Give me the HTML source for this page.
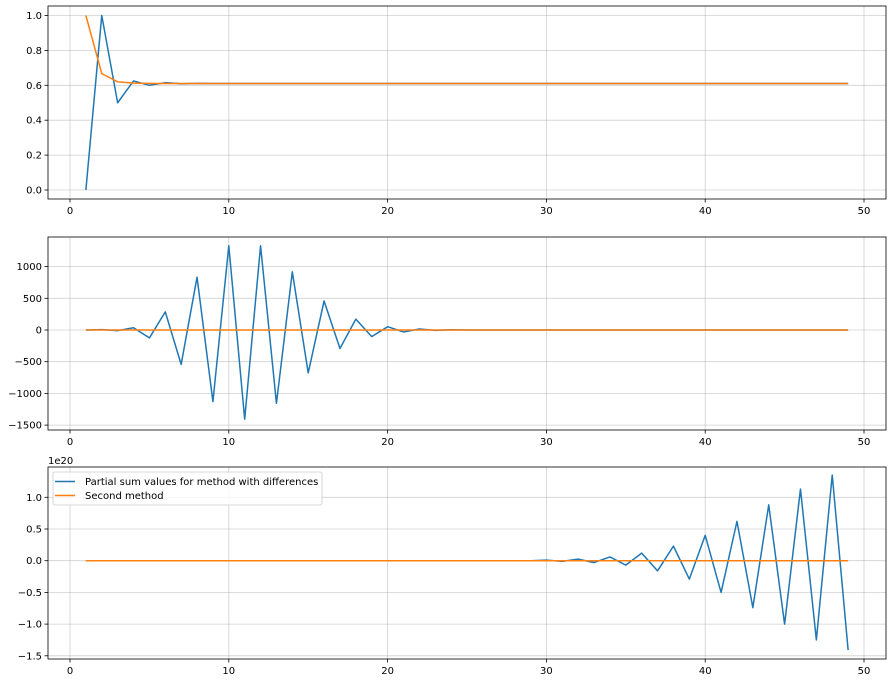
<!DOCTYPE html>
<html><head><meta charset="utf-8"><style>
html,body{margin:0;padding:0;background:#fff;}
svg{display:block;font-family:"DejaVu Sans","Liberation Sans",sans-serif;}
</style></head><body>
<svg id="fig" width="892" height="683" viewBox="0 0 892 683" xmlns="http://www.w3.org/2000/svg"></svg>
<script>
const xs = Array.from({length:49},(_,i)=>i+1);
const xTicks = [0,10,20,30,40,50];
const p1Blue = [0,1,0.5,0.625,0.6,0.615,0.609,0.611,0.61,0.61];
const p1Orange = [1,0.667,0.62,0.6125,0.611,0.61,0.61,0.61,0.61,0.61];
const p1Ticks = [0,0.2,0.4,0.6,0.8,1.0];
const p1TickLabels = ["0.0","0.2","0.4","0.6","0.8","1.0"];
const p2Blue = [0,5,-10,36,-125,286,-542,833,-1130,1328,-1406,1328,-1156,917,-677,458,-292,172,-104,52,-31,16,-5,3,0];
const p2Orange = [0,0,0,0,0,0,0,0,0,0];
const p2Ticks = [-1500,-1000,-500,0,500,1000];
const p2TickLabels = ["\u22121500","\u22121000","\u2212500","0","500","1000"];
const p3Blue = [0,0,0,0,0,0,0,0,0,0,0,0,0,0,0,0,0,0,0,0,0,0,0,0,0,0,0,0,0,0.01,-0.01,0.025,-0.03,0.06,-0.07,0.12,-0.16,0.23,-0.29,0.40,-0.50,0.62,-0.74,0.88,-1.0,1.13,-1.25,1.35,-1.41];
const p3Orange = [0,0,0,0,0,0,0,0,0,0];
const p3Ticks = [-1.5,-1.0,-0.5,0,0.5,1.0];
const p3TickLabels = ["\u22121.5","\u22121.0","\u22120.5","0.0","0.5","1.0"];

const svg = document.getElementById('fig');
const NS = 'http://www.w3.org/2000/svg';
function mk(tag, attrs){const e=document.createElementNS(NS,tag);for(const k in attrs)e.setAttribute(k,attrs[k]);return e;}
const L=48, R=886;
function xScale(v){return 70 + v*(864-70)/50;}
function pad(arr){return xs.map((x,i)=> i<arr.length?arr[i]:arr[arr.length-1]);}

function panel(name, top, bottom, y0px, yv0, y1px, yv1, ticks, labels, blue, orange){
  const g = mk('g',{});
  
  
  svg.appendChild(g);
  const ys = v => y0px + (v-yv0)*(y1px-y0px)/(yv1-yv0);
  xTicks.forEach(t=>{
    const x=xScale(t);
    const gl=mk('line',{x1:x,x2:x,y1:top,y2:bottom,stroke:'#b0b0b0','stroke-width':0.8,'stroke-opacity':0.6});
    
    
    g.appendChild(gl);
    g.appendChild(mk('line',{x1:x,x2:x,y1:bottom,y2:bottom+3.5,stroke:'#000','stroke-width':0.8}));
    const tx=mk('text',{x:x,y:bottom+15,'font-size':10,'text-anchor':'middle',fill:'#000'});
    tx.textContent=t;
    
    
    g.appendChild(tx);
  });
  ticks.forEach((t,i)=>{
    const y=ys(t);
    const gl=mk('line',{x1:L,x2:R,y1:y,y2:y,stroke:'#b0b0b0','stroke-width':0.8,'stroke-opacity':0.6});
    
    
    g.appendChild(gl);
    g.appendChild(mk('line',{x1:L-3.5,x2:L,y1:y,y2:y,stroke:'#000','stroke-width':0.8}));
    const tx=mk('text',{x:L-6,y:y+3.5,'font-size':10,'text-anchor':'end',fill:'#000'});
    tx.textContent=labels[i];
    
    
    g.appendChild(tx);
  });
  [[blue,'#1f77b4','series-blue'],[orange,'#ff7f0e','series-orange']].forEach(([arr,col,nm])=>{
    const vals=pad(arr);
    const pts=xs.map((x,i)=>xScale(x).toFixed(2)+','+ys(vals[i]).toFixed(2)).join(' ');
    const pl=mk('polyline',{points:pts,fill:'none',stroke:col,'stroke-width':1.5,'stroke-linejoin':'round'});
    
    
    g.appendChild(pl);
  });
  const fr=mk('rect',{x:L,y:top,width:R-L,height:bottom-top,fill:'none',stroke:'#000','stroke-width':0.8});
  
  
  g.appendChild(fr);
  return g;
}
panel('panel-1',6,199,190,0,15.5,1.0,p1Ticks,p1TickLabels,p1Blue,p1Orange);
panel('panel-2',237,430,330,0,298.3,500,p2Ticks,p2TickLabels,p2Blue,p2Orange);
const g3=panel('panel-3',467,659,560.7,0,529,0.5,p3Ticks,p3TickLabels,p3Blue,p3Orange);

const off=mk('text',{x:48,y:464,'font-size':10,fill:'#000'});
off.textContent='1e20';


g3.appendChild(off);

const lg=mk('g',{});


g3.appendChild(lg);
lg.appendChild(mk('rect',{x:53,y:472,width:269,height:33,rx:2,fill:'#fff','fill-opacity':0.8,stroke:'#ccc','stroke-width':0.8}));
[['Partial sum values for method with differences','#1f77b4',481.5],['Second method','#ff7f0e',495.5]].forEach(([t,c,y])=>{
  const e=mk('g',{});
  
  
  lg.appendChild(e);
  e.appendChild(mk('line',{x1:55,x2:75,y1:y,y2:y,stroke:c,'stroke-width':1.5}));
  const tx=mk('text',{x:85,y:y+3.5,'font-size':10,fill:'#000'});
  tx.textContent=t;
  e.appendChild(tx);
});
</script>
</body></html>
